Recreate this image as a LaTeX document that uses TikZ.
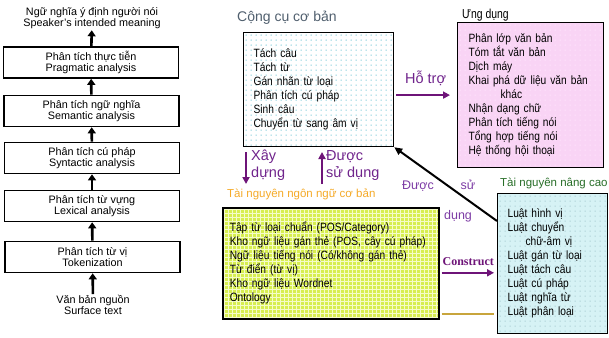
\documentclass[tikz,border=0pt]{standalone}
\usepackage{fontspec}
\setmainfont{Liberation Sans}
\newfontfamily\narrowsf[FakeStretch=0.85]{Liberation Sans}
\newfontfamily\titlesf[FakeStretch=0.8]{Liberation Sans}
\newfontfamily\serifsf{Liberation Serif}
\usetikzlibrary{arrows.meta,calc,positioning}
\definecolor{arrowpurple}{RGB}{110,20,120}
\definecolor{labelpurple}{RGB}{112,36,140}
\definecolor{diagpurple}{RGB}{125,60,165}
\definecolor{titlegray}{RGB}{80,95,110}
\definecolor{resorange}{RGB}{245,170,40}
\definecolor{advgreen}{RGB}{40,110,40}
\definecolor{appfill}{RGB}{249,212,245}
\definecolor{appdot}{RGB}{255,238,255}
\definecolor{advfill}{RGB}{214,242,245}
\definecolor{advdot}{RGB}{150,190,196}
\definecolor{resfill}{RGB}{215,238,80}
\definecolor{resgrid}{RGB}{245,252,200}
\definecolor{dotcyan}{RGB}{70,180,200}
\definecolor{goldline}{RGB}{200,165,60}

\begin{document}
\begin{tikzpicture}[x=1pt,y=-1pt,>=Stealth,
  stage/.style={draw,line width=1.6pt,minimum width=175pt,minimum height=31pt,
    inner sep=0pt,align=center,font=\fontsize{10.8}{11}\selectfont},
  endtext/.style={inner sep=1pt,align=center,font=\fontsize{10.8}{11}\selectfont},
  uparrow/.style={-{Triangle[length=6pt,width=8pt]},line width=2.6pt},
  listbox/.style={draw,line width=1.2pt,anchor=north west,align=left,inner ysep=0pt,
    font=\narrowsf\fontsize{12}{14}\selectfont},
  dotfill/.style={path picture={
    \foreach \i in {0,5,...,150} \foreach \j in {0,5,...,145}
      \fill[#1] ($(path picture bounding box.north west)+(\i+2.5,\j+2.5)$) circle (0.6);}},
  gridfill/.style={path picture={
    \foreach \i in {0,4,...,216}
      \draw[#1,line width=0.9pt] ($(path picture bounding box.north west)+(\i+2,0)$) -- ++(0,112);
    \foreach \j in {0,4,...,112}
      \draw[#1,line width=0.9pt] ($(path picture bounding box.north west)+(0,\j+2)$) -- ++(218,0);}},
  linkarrow/.style={-{Triangle[length=7pt,width=7pt]},line width=2.4pt,arrowpurple},
  linklabel/.style={labelpurple,inner sep=0pt,align=left,anchor=north west,
    font=\fontsize{14.5}{17}\selectfont},
  diaglabel/.style={diagpurple,inner sep=0pt,anchor=base,font=\fontsize{12.5}{13}\selectfont},
  grouptitle/.style={inner sep=0pt,anchor=base west,font=\fontsize{11.5}{12}\selectfont}]
  \fill[white] (0,0) rectangle (609,337);
  \useasboundingbox (0,0) rectangle (609,337);

  % analysis levels
  \node[endtext] (meaning) at (92,18.5) {Ngữ nghĩa ý định người nói\\Speaker's intended meaning};
  \node[stage] (prag) at (91,62.5) {Phân tích thực tiễn\\Pragmatic analysis};
  \node[stage] (sem) at (91.5,111) {Phân tích ngữ nghĩa\\Semantic analysis};
  \node[stage] (syn) at (92,158) {Phân tích cú pháp\\Syntactic analysis};
  \node[stage] (lex) at (92,206) {Phân tích từ vựng\\Lexical analysis};
  \node[stage] (tok) at (92.5,257) {Phân tích từ vị\\Tokenization};
  \node[endtext] (src) at (93,305) {Văn bản nguồn\\Surface text};
  \draw[uparrow] (src) -- (tok);
  \draw[uparrow] (tok) -- (lex);
  \draw[uparrow] (lex) -- (syn);
  \draw[uparrow] (syn) -- (sem);
  \draw[uparrow] (sem) -- (prag);
  \draw[uparrow] (prag) -- (meaning);

  % basic tools
  \node[grouptitle,titlegray,font=\fontsize{14}{14}\selectfont] (toolstitle) at (237,22) {Cộng cụ cơ bản};
  \node[listbox,fill=white,dotfill=dotcyan,
    text width=130pt,inner xsep=10pt,minimum height=114pt] (tools) at (243,32)
    {Tách câu\\Tách từ\\Gán nhãn từ loại\\Phân tích cú pháp\\Sinh câu\\Chuyển từ sang âm vị};

  % applications
  \node[grouptitle,font=\titlesf\fontsize{13}{13}\selectfont] (appstitle) at (462,19) {Ưng dụng};
  \node[listbox,fill=appfill,dotfill=appdot,
    text width=124pt,inner xsep=11pt,minimum height=145pt] (apps) at (457,22)
    {Phân lớp văn bản\\Tóm tắt văn bản\\Dịch máy\\Khai phá dữ liệu văn bản\\\hspace*{32pt}khác\\
     Nhận dạng chữ\\Phân tích tiếng nói\\Tổng hợp tiếng nói\\Hệ thống hội thoại};

  % basic resources
  \node[grouptitle,resorange] (restitle) at (227,197) {Tài nguyên ngôn ngữ cơ bản};
  \node[listbox,line width=1.6pt,fill=resfill,gridfill=resgrid,
    text width=202pt,inner xsep=7pt,minimum height=111pt] (res) at (222,207)
    {Tập từ loại chuẩn (POS/Category)\\Kho ngữ liệu gán thẻ (POS, cây cú pháp)\\
     Ngữ liệu tiếng nói (Có/không gán thẻ)\\Từ điển (từ vị)\\Kho ngữ liệu Wordnet\\Ontology};

  % advanced resources
  \node[grouptitle,advgreen] (advtitle) at (500,186) {Tài nguyên nâng cao};
  \node[listbox,fill=advfill,dotfill=advdot,
    text width=90pt,inner xsep=10pt,minimum height=140pt] (adv) at (497,193)
    {Luật hình vị\\Luật chuyển\\\hspace*{18pt}chữ-âm vị\\Luật gán từ loại\\Luật tách câu\\
     Luật cú pháp\\Luật nghĩa từ\\Luật phân loại};

  % links
  \draw[linkarrow,shorten <=2pt,shorten >=7pt] (tools.east |- apps.west) -- (apps.west)
    node[midway,above=5pt,labelpurple,font=\fontsize{14.5}{15}\selectfont] {Hỗ trợ};
  \coordinate (xdtop) at (246,152);
  \coordinate (xdbot) at (246,184);
  \coordinate (sdtop) at (322,152);
  \coordinate (sdbot) at (322,184);
  \draw[linkarrow] (xdtop) -- (xdbot);
  \draw[linkarrow] (sdbot) -- (sdtop);
  \node[linklabel] (xdlabel) at (251,150) {Xây\\dựng};
  \node[linklabel] (sdlabel) at (326,150) {Được\\sử dụng};
  \draw[linkarrow,shorten <=2pt,shorten >=3pt] ([yshift=-9.5pt]res.east) -- ([yshift=-9.5pt]res.east -| adv.west)
    node[midway,above=3pt,arrowpurple,font=\serifsf\bfseries\fontsize{12}{12}\selectfont] {Construct};
  \draw[goldline,line width=1.8pt,shorten <=2pt,shorten >=3pt] ([yshift=6pt]res.south east) -- ([yshift=6pt]res.south east -| adv.west);
  \draw[-{Triangle[length=8pt,width=7pt]},line width=2pt] ([yshift=-28pt]adv.north west) -- (tools.south east);
  \node[diaglabel] (dlone) at (418,189) {Được};
  \node[diaglabel] (dltwo) at (468,189) {sử};
  \node[diaglabel] (dlthree) at (458,219) {dụng};
\end{tikzpicture}
\end{document}
